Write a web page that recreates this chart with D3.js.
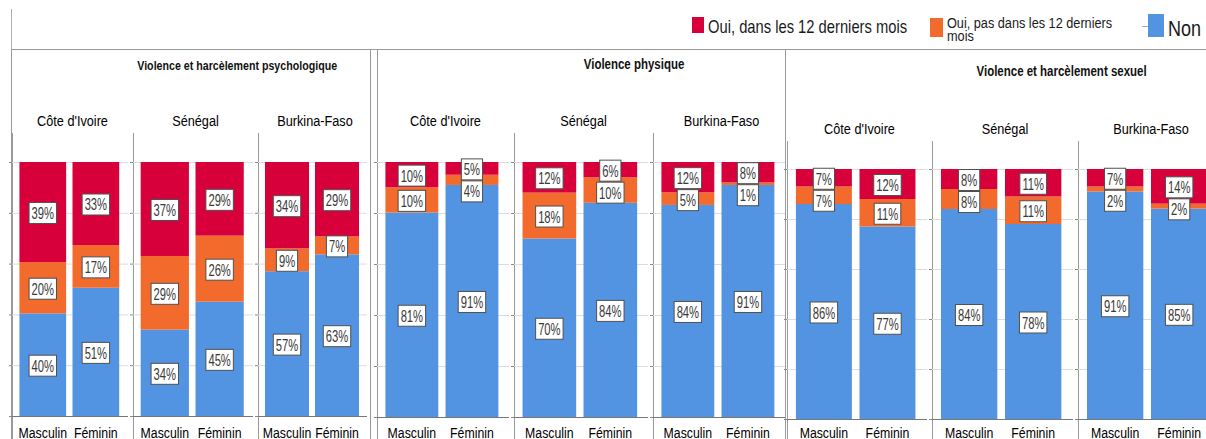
<!DOCTYPE html>
<html>
<head>
<meta charset="utf-8">
<script src="https://cdn.jsdelivr.net/npm/d3@7"></script>
<style>
  body { margin: 0; background: #fff; }
  svg { display: block; font-family: Arial, "Liberation Sans", sans-serif; }
</style>
</head>
<body>
<svg id="chart"></svg>
<script>
// categories
var violenceTypes = ["Violence et harcèlement psychologique", "Violence physique", "Violence et harcèlement sexuel"];
var countries = ["Côte d'Ivoire", "Sénégal", "Burkina-Faso"];
var sexes = ["Masculin", "Féminin"];
var seriesNames = ["Oui, dans les 12 derniers mois", "Oui, pas dans les 12 derniers mois", "Non"];

// values in %, order: type > country > sex
var ouiRecent = [39, 33, 37, 29, 34, 29,  10, 5, 12, 6, 12, 8,  7, 12, 8, 11, 7, 14];
var ouiAncien = [20, 17, 29, 26, 9, 7,    10, 4, 18, 10, 5, 1,  7, 11, 8, 11, 2, 2];
var non       = [40, 51, 34, 45, 57, 63,  81, 91, 70, 84, 84, 91, 86, 77, 84, 78, 91, 85];

var tickValues = [0, 0.2, 0.4, 0.6, 0.8, 1];

var width = 1206, height = 439;
var colors = { recent: "#d7003a", ancien: "#f26a2c", non: "#5394e2" };
var sx = 0.82; // horizontal squeeze seen in the picture

// layout of the three panels
var panels = [
  { x0: 11, x1: 370, sub: [12, 133, 258, 372], top: 162, bottom: 416, titleY: 70, countryY: 126, sepTop: 133, titleSize: 13 },
  { x0: 377, x1: 785, sub: [377, 514, 653, 790], top: 162, bottom: 417, titleY: 69, countryY: 126, sepTop: 133, titleSize: 14 },
  { x0: 785, x1: 1224, sub: [787, 932, 1078, 1224], top: 169, bottom: 419, titleY: 76, countryY: 134, sepTop: 141, titleSize: 14 }
];

var svg = d3.select("#chart").attr("width", width).attr("height", height);
svg.append("rect").attr("width", width).attr("height", height).attr("fill", "#fff");

function addText(g, x, y, str, size, opts) {
  opts = opts || {};
  return g.append("text")
    .attr("transform", "translate(" + x + "," + y + ") scale(" + (opts.sx || sx) + ",1)")
    .attr("font-size", size)
    .attr("font-weight", opts.weight || "normal")
    .attr("text-anchor", opts.anchor || "start")
    .attr("fill", opts.fill || "#000")
    .text(str);
}

// build rows
var rows = [];
violenceTypes.forEach(function(t, ti) {
  countries.forEach(function(c, ci) {
    sexes.forEach(function(s, si) {
      var i = ti * 6 + ci * 2 + si;
      rows.push({ type: t, country: c, sex: s, recent: ouiRecent[i], ancien: ouiAncien[i], non: non[i] });
    });
  });
});

var stack = d3.stack().keys(["non", "ancien", "recent"]).offset(d3.stackOffsetExpand);

// outer frame line and legend
svg.append("line").attr("x1", 11.5).attr("x2", 11.5).attr("y1", 9).attr("y2", 49).attr("stroke", "#b0b0b0");
svg.append("line").attr("x1", 11).attr("x2", width).attr("y1", 49.5).attr("y2", 49.5).attr("stroke", "#a0a0a0");

var legend = svg.append("g");
legend.append("rect").attr("x", 692).attr("y", 17).attr("width", 12).attr("height", 16).attr("fill", colors.recent);
addText(legend, 708, 33, seriesNames[0], 18, { fill: "#1a1a1a" });
legend.append("rect").attr("x", 930).attr("y", 18).attr("width", 13).attr("height", 19).attr("fill", colors.ancien);
addText(legend, 947, 28, "Oui, pas dans les 12 derniers", 15.5, { fill: "#1a1a1a" });
addText(legend, 947, 41, "mois", 15.5, { fill: "#1a1a1a" });
legend.append("line").attr("x1", 1142).attr("x2", 1148).attr("y1", 26.5).attr("y2", 26.5).attr("stroke", "#aaa");
legend.append("rect").attr("x", 1148).attr("y", 14).attr("width", 16).attr("height", 23).attr("fill", colors.non);
addText(legend, 1168, 36, seriesNames[2], 22, { fill: "#1a1a1a" });

panels.forEach(function(p, ti) {
  var g = svg.append("g");

  // panel box
  g.append("rect")
    .attr("x", p.x0 + 0.5).attr("y", 49.5)
    .attr("width", p.x1 - p.x0).attr("height", 420)
    .attr("fill", "none").attr("stroke", "#9a9a9a");

  addText(g, p.x0 + (p.x1 - p.x0) * 0.63, p.titleY, violenceTypes[ti], p.titleSize, { anchor: "middle", weight: "bold", fill: "#111" });

  var y = d3.scaleLinear().domain([0, 1]).range([p.bottom, p.top]);

  countries.forEach(function(c, ci) {
    var a = p.sub[ci], b = p.sub[ci + 1];
    var sg = g.append("g");

    // separator line of each sub panel
    sg.append("line")
      .attr("x1", a + 0.5).attr("x2", a + 0.5)
      .attr("y1", p.sepTop).attr("y2", height)
      .attr("stroke", "#9a9a9a");

    addText(sg, (a + b) / 2, p.countryY, c, 15.5, { anchor: "middle", fill: "#000" });

    var x = d3.scaleBand().domain(sexes).range([a, b]).paddingInner(0.12).paddingOuter(0.2).align(0.35);

    // gridlines
    var grid = sg.append("g")
      .attr("transform", "translate(" + a + ",0)")
      .call(d3.axisLeft(y).tickValues(tickValues).tickSizeInner(-(b - a - 5)).tickSizeOuter(0).tickFormat(""));
    grid.select(".domain").remove();
    grid.selectAll(".tick line").attr("stroke", "#dcdcdc");

    var ticks = sg.append("g")
      .attr("transform", "translate(" + a + ",0)")
      .call(d3.axisLeft(y).tickValues(tickValues).tickSize(3).tickFormat(""));
    ticks.select(".domain").remove();
    ticks.selectAll(".tick line").attr("stroke", "#888");

    var data = rows.filter(function(r) { return r.type === violenceTypes[ti] && r.country === c; });
    var layers = stack(data);

    var keyColor = { non: colors.non, ancien: colors.ancien, recent: colors.recent };
    sg.selectAll("g.layer")
      .data(layers)
      .enter().append("g")
      .attr("fill", function(d) { return keyColor[d.key]; })
      .selectAll("rect")
      .data(function(d) { return d; })
      .enter().append("rect")
      .attr("x", function(d) { return x(d.data.sex); })
      .attr("y", function(d) { return y(d[1]); })
      .attr("width", x.bandwidth())
      .attr("height", function(d) { return y(d[0]) - y(d[1]); });

    // bottom axis
    var xAxis = sg.append("g")
      .attr("transform", "translate(0," + p.bottom + ")")
      .call(d3.axisBottom(x).tickSize(0).tickPadding(0));
    xAxis.select(".domain").attr("stroke", "#777").attr("d", "M" + a + ",0.5H" + (b - 5));
    xAxis.selectAll(".tick text")
      .attr("y", 0).attr("dy", 0)
      .attr("transform", "translate(0," + (438 - p.bottom) + ") scale(" + sx + ",1)")
      .attr("font-size", 15).attr("fill", "#000")
      .attr("font-family", "Arial, 'Liberation Sans', sans-serif");

    // value labels, top segment first
    data.forEach(function(row, ri) {
      var segs = [];
      ["recent", "ancien", "non"].forEach(function(k) {
        var layer = layers.filter(function(l) { return l.key === k; })[0];
        var d = layer[ri];
        segs.push({ value: row[k], cy: (y(d[0]) + y(d[1])) / 2 + 1 });
      });
      for (var i = 1; i < segs.length; i++) {
        if (segs[i].cy < segs[i - 1].cy + 22) segs[i].cy = segs[i - 1].cy + 22;
      }
      var cx = x(row.sex) + x.bandwidth() / 2;
      segs.forEach(function(s) {
        var lg = sg.append("g");
        var box = lg.append("rect");
        var t = addText(lg, cx, s.cy + 6, s.value + "%", 17, { anchor: "middle", sx: 0.66, fill: "#3a3a3a" });
        var w = t.node().getComputedTextLength() * 0.66 + 5;
        box.attr("x", cx - w / 2).attr("y", s.cy - 10.5)
          .attr("width", w).attr("height", 21)
          .attr("fill", "#fff").attr("stroke", "#505050").attr("stroke-width", 1);
      });
    });
  });
});
</script>
</body>
</html>
